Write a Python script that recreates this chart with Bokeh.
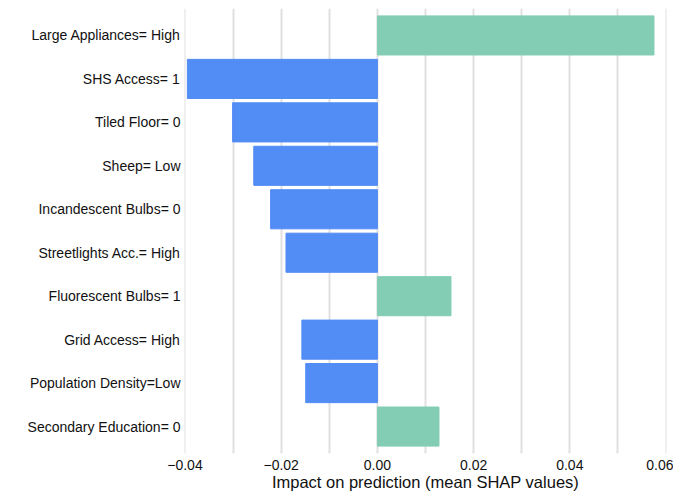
from bokeh.plotting import figure
from bokeh.models import FactorRange, Range1d, FixedTicker, ColumnDataSource
from bokeh.embed import file_html
from bokeh.resources import INLINE

features = ['Large Appliances= High', 'SHS Access= 1', 'Tiled Floor= 0', 'Sheep= Low',
            'Incandescent Bulbs= 0', 'Streetlights Acc.= High', 'Fluorescent Bulbs= 1',
            'Grid Access= High', 'Population Density=Low', 'Secondary Education= 0']
shap = [0.0575, -0.0395, -0.0301, -0.0257, -0.0222, -0.0190, 0.0153, -0.0157, -0.0149, 0.0128]

tick_values = [-0.04, -0.02, 0.0, 0.02, 0.04, 0.06]
tick_labels = ['\u22120.04', '\u22120.02', '0.00', '0.02', '0.04', '0.06']
grid_values = [-0.04, -0.03, -0.02, -0.01, 0.0, 0.01, 0.02, 0.03, 0.04, 0.05, 0.06]

POS = '#84cdb5'
NEG = '#528cf5'
FONT = 'Liberation Sans'

colors = [POS if v >= 0 else NEG for v in shap]
src = ColumnDataSource(dict(feature=features, shap=shap, color=colors))

p = figure(width=673, height=496, output_backend="svg", toolbar_location=None,
           y_range=FactorRange(*features[::-1], range_padding=0.12, range_padding_units='absolute'),
           x_range=Range1d(-0.0401, 0.0601),
           min_border_left=184, min_border_right=7, min_border_top=8, min_border_bottom=43)

p.hbar(y='feature', left=0, right='shap', height=0.9, color='color', source=src)

p.outline_line_color = None
p.ygrid.grid_line_color = None
p.xgrid.ticker = FixedTicker(ticks=grid_values)
p.xgrid.grid_line_color = '#e0e0e0'
p.xgrid.grid_line_width = 2
p.xgrid.level = 'underlay'

p.xaxis.ticker = FixedTicker(ticks=tick_values)
p.xaxis.major_label_overrides = dict(zip(tick_values, tick_labels))
p.xaxis.axis_label = 'Impact on prediction (mean SHAP values)'
p.xaxis.axis_label_text_font = FONT
p.xaxis.axis_label_text_font_style = 'normal'
p.xaxis.axis_label_text_font_size = '16.5px'
p.xaxis.axis_label_text_color = '#111111'
p.xaxis.axis_label_standoff = 0

for ax in (p.xaxis, p.yaxis):
    ax.axis_line_color = None
    ax.major_tick_line_color = None
    ax.minor_tick_line_color = None
    ax.major_tick_out = 0
    ax.major_tick_in = 0
    ax.major_label_text_font = FONT
    ax.major_label_text_color = '#111111'

p.xaxis.major_label_text_font_size = '14px'
p.xaxis.major_label_standoff = 6
p.yaxis.major_label_text_font_size = '14px'
p.yaxis.major_label_standoff = 4

open("out.html", "w").write(file_html(p, INLINE))
